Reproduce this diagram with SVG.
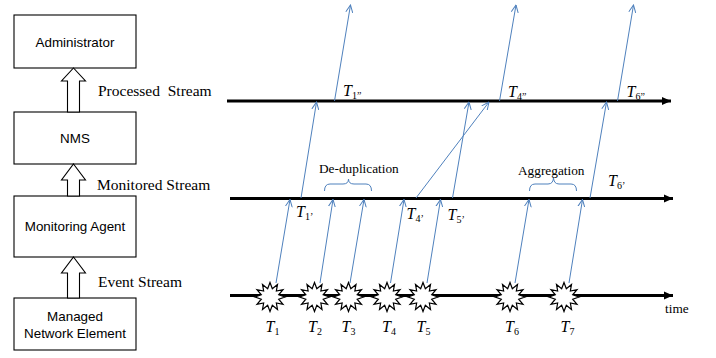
<svg xmlns="http://www.w3.org/2000/svg" width="716" height="358" viewBox="0 0 716 358">
<style>
.box{fill:#fff;stroke:#000;stroke-width:1.1}
.hollow{fill:#fff;stroke:#000;stroke-width:1.1}
.bt{font-family:"Liberation Sans",Arial,sans-serif;font-size:13.4px;fill:#000;text-anchor:middle}
.lbl{font-family:"Liberation Serif","Times New Roman",serif;font-size:15.5px;fill:#000}
.ann{font-family:"Liberation Serif","Times New Roman",serif;font-size:13.3px;fill:#000}
.tl{stroke:#000;stroke-width:3;fill:none}
.bl{stroke:#4f81bd;stroke-width:1;fill:none}
.tv{font-family:"Liberation Serif","Times New Roman",serif;font-size:16px;font-style:italic;fill:#000}
.sub{font-style:normal;font-size:10px}
.star{fill:#fff;stroke:#000;stroke-width:1.2;stroke-linejoin:miter}
</style>
<defs>
<marker id="open" viewBox="0 0 8 8" refX="7.5" refY="4" markerWidth="8" markerHeight="8" markerUnits="userSpaceOnUse" orient="auto">
<path d="M0,0.5 L7.5,4 L0,7.5" fill="none" stroke="#4f81bd" stroke-width="1"/>
</marker>
<marker id="solid" viewBox="0 0 10 10" refX="9" refY="5" markerWidth="10" markerHeight="10" markerUnits="userSpaceOnUse" orient="auto">
<path d="M0,1 L9,5 L0,9 Z" fill="#000"/>
</marker>
<polygon id="star" class="star" points="0,-14.5 2.33,-8.21 7.5,-12.56 6.36,-6.01 12.99,-7.25 8.69,-2.2 15,0 8.69,2.2 12.99,7.25 6.36,6.01 7.5,12.56 2.33,8.21 0,14.5 -2.33,8.21 -7.5,12.56 -6.36,6.01 -12.99,7.25 -8.69,2.2 -15,0 -8.69,-2.2 -12.99,-7.25 -6.36,-6.01 -7.5,-12.56 -2.33,-8.21"/>
</defs>
<rect width="716" height="358" fill="#fff"/>

<g id="administrator"><rect class="box" x="14" y="15" width="122" height="53"/><text class="bt" x="75" y="46.5">Administrator</text></g>
<g id="nms"><rect class="box" x="14" y="112" width="122" height="52"/><text class="bt" x="75" y="143">NMS</text></g>
<g id="monitoring-agent"><rect class="box" x="14" y="196" width="122" height="61"/><text class="bt" x="75" y="231">Monitoring Agent</text></g>
<g id="managed-ne"><rect class="box" x="14" y="298" width="122" height="52"/><text class="bt" x="75" y="321">Managed</text><text class="bt" x="75" y="338">Network Element</text></g>

<g id="stream-arrows">
<polygon class="hollow" points="73.5,68 85.5,81 79.5,81 79.5,112 67.5,112 67.5,81 61.5,81"/>
<polygon class="hollow" points="73.5,164 85.5,180 79.5,180 79.5,196 67.5,196 67.5,180 61.5,180"/>
<polygon class="hollow" points="73.5,257 85.5,273 79.5,273 79.5,298 67.5,298 67.5,273 61.5,273"/>
<text class="lbl" x="98" y="96" xml:space="preserve">Processed  Stream</text>
<text class="lbl" x="97" y="190">Monitored Stream</text>
<text class="lbl" x="98" y="287">Event Stream</text>
</g>

<g id="timelines">
<line class="tl" x1="227" y1="101" x2="671" y2="101" marker-end="url(#solid)"/>
<line class="tl" x1="230" y1="198.5" x2="673" y2="198.5" marker-end="url(#solid)"/>
<line class="tl" x1="230" y1="295.5" x2="673" y2="295.5" marker-end="url(#solid)"/>
<text class="ann" x="665" y="313">time</text>
</g>

<g id="connectors">
<line class="bl" x1="276" y1="283" x2="290" y2="199.5" marker-end="url(#open)"/>
<line class="bl" x1="320" y1="283" x2="333" y2="199.5" marker-end="url(#open)"/>
<line class="bl" x1="350" y1="283" x2="364" y2="199.5" marker-end="url(#open)"/>
<line class="bl" x1="390.5" y1="283" x2="404" y2="199.5" marker-end="url(#open)"/>
<line class="bl" x1="427" y1="283" x2="440.5" y2="199.5" marker-end="url(#open)"/>
<line class="bl" x1="515" y1="283" x2="529" y2="199.5" marker-end="url(#open)"/>
<line class="bl" x1="569" y1="283" x2="582.5" y2="199.5" marker-end="url(#open)"/>
<line class="bl" x1="301" y1="198" x2="316.5" y2="102" marker-end="url(#open)"/>
<line class="bl" x1="416" y1="198" x2="489" y2="102" marker-end="url(#open)"/>
<line class="bl" x1="452.5" y1="198" x2="469" y2="102" marker-end="url(#open)"/>
<line class="bl" x1="590" y1="198" x2="606.5" y2="102" marker-end="url(#open)"/>
<line class="bl" x1="334.5" y1="101" x2="350.5" y2="5" marker-end="url(#open)"/>
<line class="bl" x1="499.5" y1="101" x2="516" y2="5" marker-end="url(#open)"/>
<line class="bl" x1="617.5" y1="101" x2="633.5" y2="5" marker-end="url(#open)"/>
<path class="bl" d="M324.5,191 Q324.5,184 330,184 L343,184 Q348.5,184 348.5,179 Q348.5,184 354,184 L366,184 Q371.5,184 371.5,191"/>
<path class="bl" d="M529.5,191 Q529.5,184 535,184 L548,184 Q553.5,184 553.5,177 Q553.5,184 559,184 L571,184 Q576.5,184 576.5,191"/>
</g>

<g id="events">
<use href="#star" x="270" y="297"/>
<use href="#star" x="314.5" y="297"/>
<use href="#star" x="348.5" y="297"/>
<use href="#star" x="387" y="297"/>
<use href="#star" x="423" y="297"/>
<use href="#star" x="510" y="297"/>
<use href="#star" x="564" y="297"/>
</g>

<g id="labels">
<text class="ann" x="319" y="173">De-duplication</text>
<text class="ann" x="518" y="175">Aggregation</text>
<text class="tv" x="343" y="96">T<tspan class="sub" dy="3">1”</tspan></text>
<text class="tv" x="508" y="96.5">T<tspan class="sub" dy="3">4”</tspan></text>
<text class="tv" x="626.5" y="96.5">T<tspan class="sub" dy="3">6”</tspan></text>
<text class="tv" x="296" y="216.5">T<tspan class="sub" dy="3">1’</tspan></text>
<text class="tv" x="406.5" y="219">T<tspan class="sub" dy="3">4’</tspan></text>
<text class="tv" x="447.5" y="219.5">T<tspan class="sub" dy="3">5’</tspan></text>
<text class="tv" x="608" y="186">T<tspan class="sub" dy="3">6’</tspan></text>
<text class="tv" x="265.5" y="331.5">T<tspan class="sub" dy="3.5">1</tspan></text>
<text class="tv" x="308" y="331.5">T<tspan class="sub" dy="3.5">2</tspan></text>
<text class="tv" x="341.5" y="331.5">T<tspan class="sub" dy="3.5">3</tspan></text>
<text class="tv" x="382" y="331.5">T<tspan class="sub" dy="3.5">4</tspan></text>
<text class="tv" x="416.5" y="331.5">T<tspan class="sub" dy="3.5">5</tspan></text>
<text class="tv" x="505" y="331.5">T<tspan class="sub" dy="3.5">6</tspan></text>
<text class="tv" x="560.5" y="331.5">T<tspan class="sub" dy="3.5">7</tspan></text>
</g>
</svg>
